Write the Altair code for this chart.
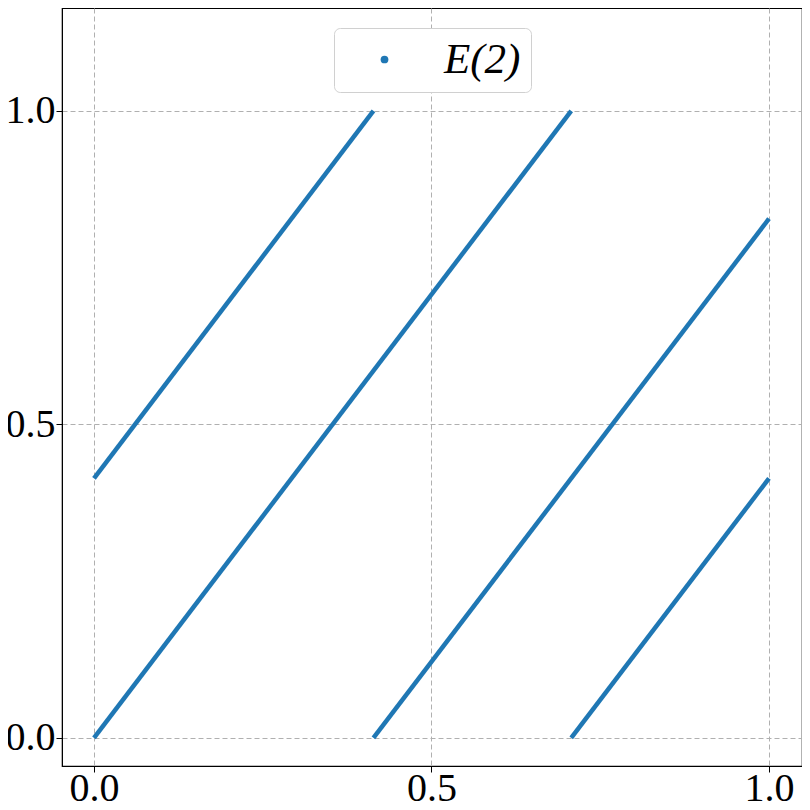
import altair as alt
import pandas as pd

series = ["E(2)"] * 8
segment = [1, 1, 2, 2, 3, 3, 4, 4]
x_vals = [0.0, 0.414, 0.0, 0.707, 0.414, 1.0, 0.707, 1.0]
y_vals = [0.414, 1.0, 0.0, 1.0, 0.0, 0.828, 0.0, 0.414]
ticks = [0.0, 0.5, 1.0]

df = pd.DataFrame({"x": x_vals, "y": y_vals, "seg": segment, "series": series})

FONT = "Liberation Serif"

def make_axis(**kw):
    return alt.Axis(values=ticks, format=".1f", title=None, grid=True,
                    gridDash=[5, 3], gridColor="#b0b0b0", gridWidth=1,
                    tickColor="black", tickSize=6, domainColor="black",
                    labelFont=FONT, labelFontSize=40, labelColor="black", **kw)

chart = alt.Chart(df).mark_line(strokeWidth=4.5, strokeCap="butt").encode(
    x=alt.X("x:Q", scale=alt.Scale(domain=[-0.0474, 1.0489], nice=False, zero=False),
            axis=make_axis(labelBaseline="top", labelPadding=-4)),
    y=alt.Y("y:Q", scale=alt.Scale(domain=[-0.0447, 1.164], nice=False, zero=False),
            axis=make_axis(labelPadding=1)),
    detail="seg:N",
    color=alt.Color("series:N", scale=alt.Scale(range=["#1f77b4"]),
                    legend=alt.Legend(title=None, orient="none", legendX=272, legendY=20,
                                      symbolType="circle", symbolSize=60,
                                      symbolFillColor="#1f77b4", symbolStrokeWidth=0,
                                      labelFont=FONT, labelFontSize=43, labelFontStyle="italic",
                                      labelColor="black", fillColor="white",
                                      strokeColor="#d0d0d0", cornerRadius=6,
                                      padding=10, symbolOffset=19, labelOffset=38)),
).properties(
    width=740, height=758,
    padding={"left": 54, "top": 0, "right": 0, "bottom": 36},
    autosize=alt.AutoSizeParams(type="none"),
).configure_view(stroke="black", strokeWidth=1.2)

chart.save("out.html", embed_options={"renderer": "svg", "actions": False})
